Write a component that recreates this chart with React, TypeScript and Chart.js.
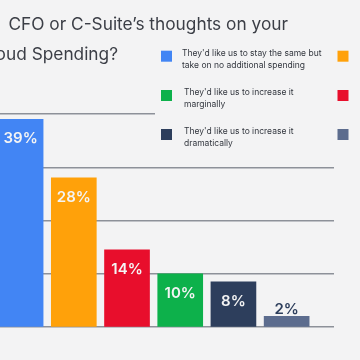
import React, { useEffect, useRef } from "react";
import { Chart, registerables } from "chart.js";

Chart.register(...registerables);

const categories = [
  "They'd like us to stay the same but take on no additional spending",
  "They'd like us to decrease it marginally",
  "They'd like us to decrease it dramatically",
  "They'd like us to increase it marginally",
  "They'd like us to increase it dramatically",
  "Other",
];
const values = [39, 28, 14.5, 10, 8.5, 2];
const valueLabels = ["39%", "28%", "14%", "10%", "8%", "2%"];
const colors = ["#4285f4", "#ffa10a", "#e80e2c", "#0db14b", "#2d3e5c", "#5c6c8e"];
const legendOrder = [0, 3, 4, 1, 2, 5];
const titlePrefix = "What are your";
const titleLines = ["CFO or C-Suite’s thoughts on your", "Cloud Spending?"];
const yTicks = [0, 10, 20, 30, 40];

const BG = "#f3f3f4";
const OFF = 60;
const FONT = "Inter, 'Noto Sans', sans-serif";

function wrap(ctx: CanvasRenderingContext2D, text: string, maxW: number): string[] {
  const words = text.split(" ");
  const lines: string[] = [];
  let cur = "";
  for (const w of words) {
    const t = cur ? cur + " " + w : w;
    if (ctx.measureText(t).width > maxW && cur) {
      lines.push(cur);
      cur = w;
    } else cur = t;
  }
  if (cur) lines.push(cur);
  return lines;
}

const decorPlugin = {
  id: "decor",
  beforeDraw(chart: any) {
    const { ctx, width, height } = chart;
    ctx.save();
    ctx.fillStyle = BG;
    ctx.fillRect(0, 0, width, height);
    ctx.restore();
  },
  afterDraw(chart: any) {
    const ctx: CanvasRenderingContext2D = chart.ctx;
    ctx.save();
    // legend background covering the top gridline
    ctx.fillStyle = BG;
    ctx.fillRect(OFF + 155, 40, 260, 108);
    // title
    ctx.fillStyle = "#3b3e46";
    ctx.font = `400 17.3px ${FONT}`;
    ctx.textBaseline = "alphabetic";
    ctx.textAlign = "right";
    ctx.fillText(titlePrefix, OFF - 3, 30);
    ctx.fillText(titleLines[0], OFF + 288, 30);
    ctx.fillText(titleLines[1], OFF + 118, 60);
    // legend
    ctx.textAlign = "left";
    ctx.textBaseline = "middle";
    ctx.font = `400 8.5px ${FONT}`;
    legendOrder.forEach((idx, k) => {
      const col = Math.floor(k / 3);
      const row = k % 3;
      const bx = OFF + (col === 0 ? 161 : 337.5);
      const by = [50.7, 90, 129][row];
      ctx.fillStyle = colors[idx];
      ctx.fillRect(bx, by, 11, 11);
      ctx.fillStyle = "#33373f";
      const lines = wrap(ctx, categories[idx], 145);
      lines.forEach((ln, i) => {
        ctx.fillText(ln, bx + (k === 0 ? 21 : 23), by + 2.8 + i * 12);
      });
    });
    ctx.restore();
  },
  afterDatasetsDraw(chart: any) {
    const ctx: CanvasRenderingContext2D = chart.ctx;
    const meta = chart.getDatasetMeta(0);
    ctx.save();
    ctx.font = `600 15px ${FONT}`;
    ctx.textAlign = "center";
    meta.data.forEach((bar: any, i: number) => {
      const h = bar.base - bar.y;
      if (h > 30) {
        ctx.fillStyle = "#f4f4f4";
        ctx.textBaseline = "middle";
        ctx.fillText(valueLabels[i], bar.x, bar.y + 19.5);
      } else {
        ctx.fillStyle = "#2d3e5c";
        ctx.textBaseline = "alphabetic";
        ctx.fillText(valueLabels[i], bar.x, bar.y - 2.5);
      }
    });
    ctx.restore();
  },
};

export default function App() {
  const ref = useRef<HTMLCanvasElement>(null);
  useEffect(() => {
    if (!ref.current) return;
    const chart = new Chart(ref.current, {
      type: "bar",
      data: {
        labels: categories,
        datasets: [
          {
            data: values.map((v, i) => ({ x: i, y: v })),
            backgroundColor: colors,
            barThickness: 45,
            borderWidth: 0,
          },
        ],
      },
      options: {
        animation: false,
        responsive: false,
        devicePixelRatio: 1,
        layout: { padding: { left: 54, right: 26, top: 114, bottom: 33 } },
        plugins: { legend: { display: false }, tooltip: { enabled: false }, title: { display: false } },
        scales: {
          x: {
            type: "linear",
            display: false,
            offset: false,
            min: -0.5,
            max: 5.89,
          },
          y: {
            min: 0,
            max: 40,
            afterBuildTicks: (axis: any) => {
              axis.ticks = yTicks.map((v) => ({ value: v }));
            },
            afterFit: (axis: any) => {
              axis.width = 0;
            },
            ticks: { display: false },
            border: { display: false },
            grid: { color: "#8d9199", lineWidth: 1.4, drawTicks: false },
          },
        },
      },
      plugins: [decorPlugin],
    } as any);
    return () => chart.destroy();
  }, []);
  return (
    <div
      style={{
        position: "fixed",
        left: 0,
        top: 0,
        width: 360,
        height: 360,
        overflow: "hidden",
        background: BG,
      }}
    >
      <canvas
        ref={ref}
        width={360 + OFF}
        height={360}
        style={{ position: "absolute", left: -OFF, top: 0, width: 360 + OFF, height: 360 }}
      />
    </div>
  );
}
